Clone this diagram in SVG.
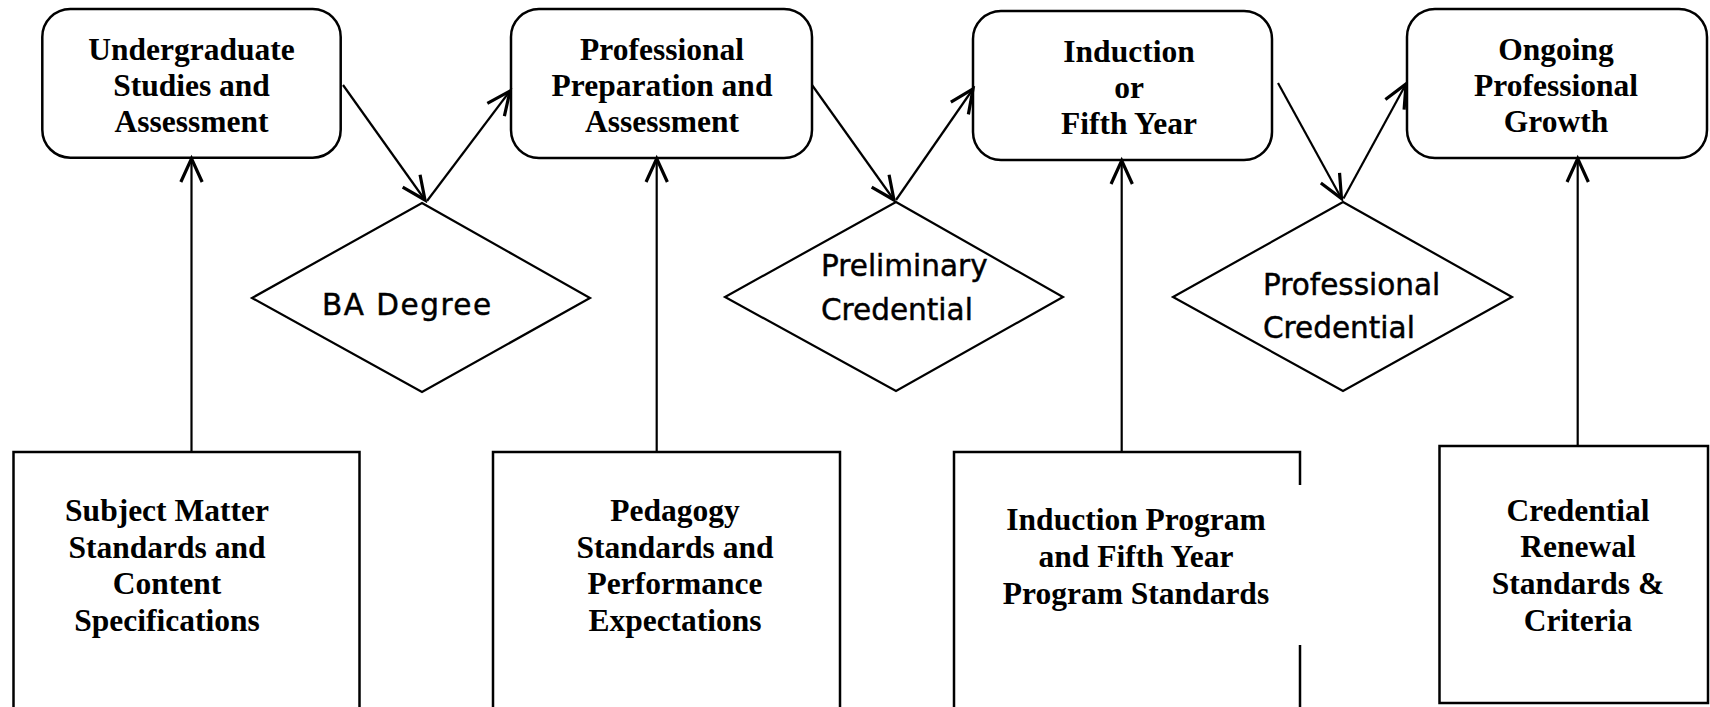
<svg xmlns="http://www.w3.org/2000/svg" width="1710" height="707" viewBox="0 0 1710 707">
  <defs>
    <style>
      .stage{fill:#fff;stroke:#000;stroke-width:2.5}
      .std{fill:#fff;stroke:#000;stroke-width:2.5}
      .gate{fill:#fff;stroke:#000;stroke-width:2.2}
      .t{font-family:"Liberation Serif","Times New Roman",serif;font-weight:bold;font-size:31.5px;text-anchor:middle;fill:#000}
      .d{font-family:"DejaVu Sans",Verdana,sans-serif;font-size:29.5px;fill:#000;stroke:#000;stroke-width:0.45}
      .link{fill:none;stroke:#000;stroke-width:2.2;marker-end:url(#head)}
    </style>
    <marker id="head" markerUnits="userSpaceOnUse" markerWidth="32" markerHeight="32" viewBox="-26 -14 30 28" refX="0" refY="0" orient="auto">
      <path d="M-22,-10 L0,0 L-22,10" fill="none" stroke="#000" stroke-width="3"/>
    </marker>
  </defs>
  <rect width="1710" height="707" fill="#fff"/>

  <!-- career stages -->
  <g id="undergraduate">
    <rect class="stage" x="42.3" y="9" width="298.4" height="148.7" rx="28"/>
    <text class="t"><tspan x="191.5" y="59.5">Undergraduate</tspan><tspan x="191.5" y="96">Studies and</tspan><tspan x="191.5" y="132">Assessment</tspan></text>
  </g>
  <g id="preparation">
    <rect class="stage" x="511" y="9" width="301" height="149" rx="28"/>
    <text class="t"><tspan x="662" y="59.5">Professional</tspan><tspan x="662" y="96">Preparation and</tspan><tspan x="662" y="132">Assessment</tspan></text>
  </g>
  <g id="induction">
    <rect class="stage" x="973" y="11" width="299" height="149" rx="28"/>
    <text class="t"><tspan x="1129" y="61.5">Induction</tspan><tspan x="1129" y="98">or</tspan><tspan x="1129" y="134">Fifth Year</tspan></text>
  </g>
  <g id="growth">
    <rect class="stage" x="1407" y="9" width="300" height="149" rx="28"/>
    <text class="t"><tspan x="1556" y="59.5">Ongoing</tspan><tspan x="1556" y="96">Professional</tspan><tspan x="1556" y="132">Growth</tspan></text>
  </g>

  <!-- credentials earned between stages -->
  <g id="ba-degree">
    <polygon class="gate" points="422,203 590,298 422,392 252,298"/>
    <text class="d" x="322" y="315" letter-spacing="1.5">BA Degree</text>
  </g>
  <g id="preliminary-credential">
    <polygon class="gate" points="896,202 1063,297 896,391 725,297"/>
    <text class="d"><tspan x="821" y="276">Preliminary</tspan><tspan x="821" y="320">Credential</tspan></text>
  </g>
  <g id="professional-credential">
    <polygon class="gate" points="1343,202 1512,297 1343,391 1173,297"/>
    <text class="d"><tspan x="1263" y="295">Professional</tspan><tspan x="1263" y="338">Credential</tspan></text>
  </g>

  <!-- standards feeding each stage -->
  <g id="subject-matter">
    <rect class="std" x="13.5" y="452" width="346" height="260"/>
    <text class="t"><tspan x="167" y="521">Subject Matter</tspan><tspan x="167" y="557.5">Standards and</tspan><tspan x="167" y="594">Content</tspan><tspan x="167" y="630.5">Specifications</tspan></text>
  </g>
  <g id="pedagogy">
    <rect class="std" x="493" y="452" width="347" height="260"/>
    <text class="t"><tspan x="675" y="521">Pedagogy</tspan><tspan x="675" y="557.5">Standards and</tspan><tspan x="675" y="594">Performance</tspan><tspan x="675" y="630.5">Expectations</tspan></text>
  </g>
  <g id="induction-standards">
    <path class="std" d="M954,712 V452 H1300 V485 M1300,645 V712"/>
    <text class="t"><tspan x="1136" y="530">Induction Program</tspan><tspan x="1136" y="567">and Fifth Year</tspan><tspan x="1136" y="604">Program Standards</tspan></text>
  </g>
  <g id="renewal">
    <rect class="std" x="1439.5" y="446" width="268.5" height="257"/>
    <text class="t"><tspan x="1578" y="520.5">Credential</tspan><tspan x="1578" y="557">Renewal</tspan><tspan x="1578" y="593.5">Standards &amp;</tspan><tspan x="1578" y="630.5">Criteria</tspan></text>
  </g>

  <!-- connectors -->
  <g id="connectors">
    <path class="link" d="M191.5,452 V158.5"/>
    <path class="link" d="M656.7,452 V158.5"/>
    <path class="link" d="M1121.7,452 V160.5"/>
    <path class="link" d="M1577.7,446 V158.5"/>
    <path class="link" d="M343,85 L425,200"/>
    <path class="link" d="M427,201 L510,91"/>
    <path class="link" d="M812,85 L894,200"/>
    <path class="link" d="M896,200 L973,89"/>
    <path class="link" d="M1278,83 L1341.5,198.5"/>
    <path class="link" d="M1343.5,198.5 L1406,84"/>
  </g>
</svg>
